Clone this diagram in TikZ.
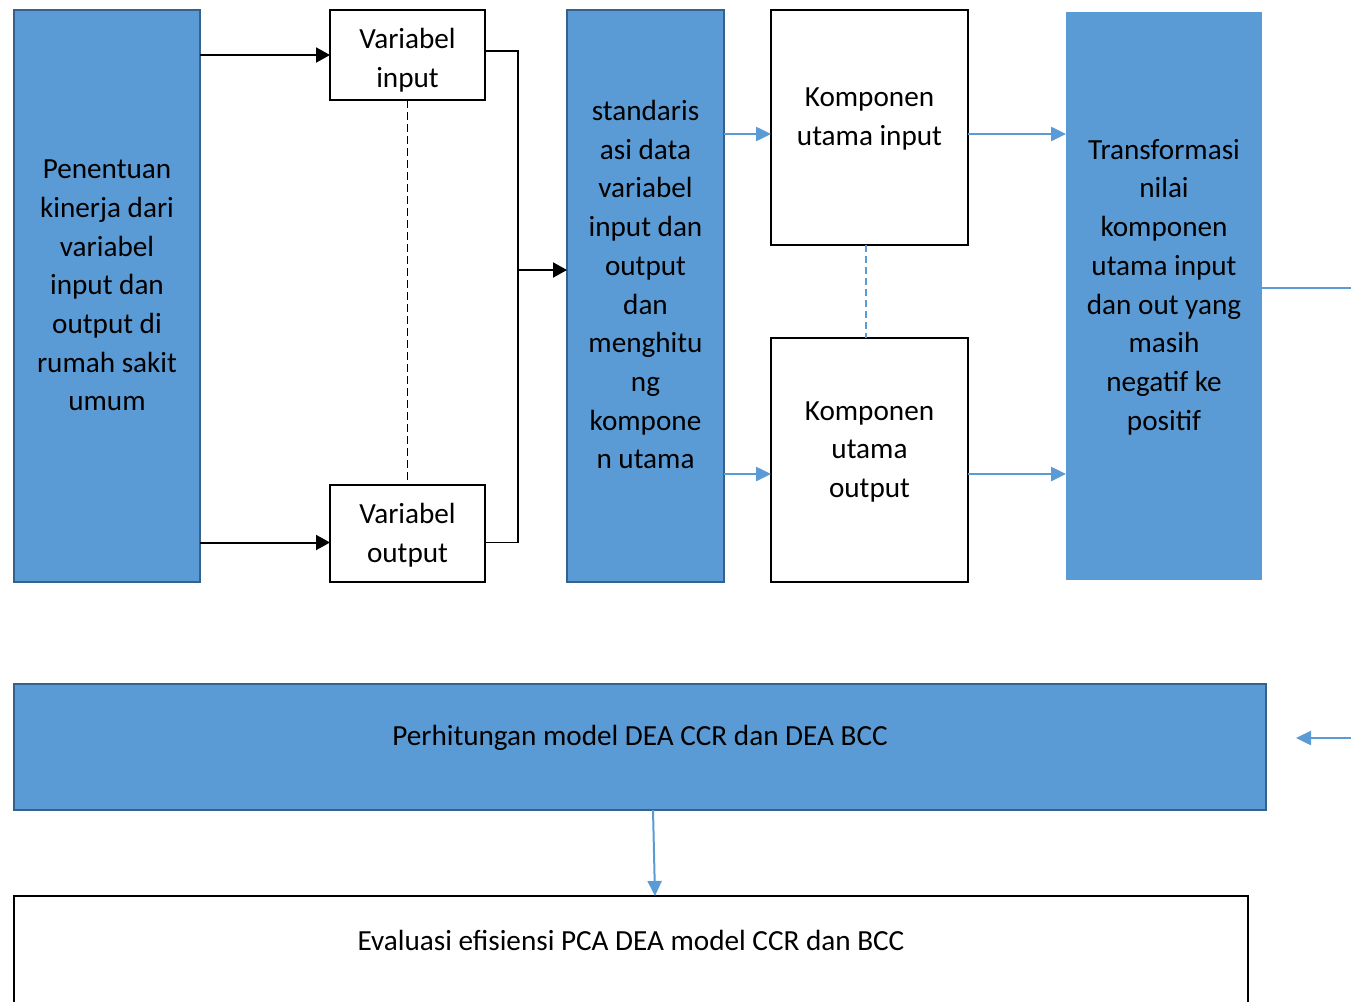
\documentclass[tikz,border=0pt]{standalone}
\usepackage{fontspec}
\setmainfont{Carlito}
\usetikzlibrary{arrows.meta}
\definecolor{bfill}{HTML}{5B9BD5}
\definecolor{bdark}{HTML}{35618F}
\begin{document}
\begin{tikzpicture}[x=1pt,y=-1pt,
  box/.style={rectangle,inner sep=0pt,outer sep=0pt},
  bluebox/.style={box,draw=bdark,line width=2pt,fill=bfill},
  plainblue/.style={box,fill=bfill},
  whitebox/.style={box,draw=black,line width=2.4pt,fill=white},
  txt/.style={align=center,inner sep=0pt,font=\fontsize{29.2}{38.7}\selectfont},
  blkarrow/.style={line width=2pt,-{Triangle[length=14pt,width=15pt]}},
  bluearrow/.style={draw=bfill,line width=2.5pt,-{Triangle[length=15pt,width=14pt]}},
  blueline/.style={draw=bfill,line width=2.5pt},
]
\useasboundingbox (0,0) rectangle (1351,1001);
\clip (0,0) rectangle (1351,1001);
\fill[white] (0,0) rectangle (1351,1001);

% boxes
\node[bluebox,minimum width=186pt,minimum height=572pt] (A) at (107,296) {};
\node[whitebox,minimum width=155pt,minimum height=90pt] (vin) at (407.5,55) {};
\node[whitebox,minimum width=155pt,minimum height=97pt] (vout) at (407.5,533.5) {};
\node[bluebox,minimum width=157pt,minimum height=572pt] (B) at (645.5,296) {};
\node[whitebox,minimum width=197pt,minimum height=235pt] (K1) at (869.5,127.5) {};
\node[whitebox,minimum width=197pt,minimum height=244pt] (K2) at (869.5,460) {};
\node[plainblue,minimum width=196pt,minimum height=568pt] (C) at (1164,296) {};
\node[bluebox,minimum width=1252pt,minimum height=126pt] (D) at (640,747) {};
\node[whitebox,minimum width=1234pt,minimum height=114pt] (E) at (631,953) {};

% texts
\node[txt] (tA) at (107,287) {\strut Penentuan\\kinerja dari\\variabel\\input dan\\output di\\rumah sakit\\umum\strut};
\node[txt] (tvin) at (407.5,60.5) {\strut Variabel\\input\strut};
\node[txt] (tvout) at (407.5,535.5) {\strut Variabel\\output\strut};
\node[txt] (tB) at (645.5,287) {\strut standaris\\asi data\\variabel\\input dan\\output\\dan\\menghitu\\ng\\kompone\\n utama\strut};
\node[txt] (tK1) at (869.5,118.5) {\strut Komponen\\utama input\strut};
\node[txt] (tK2) at (869.5,451) {\strut Komponen\\utama\\output\strut};
\node[txt] (tC) at (1164,287) {\strut Transformasi\\nilai\\komponen\\utama input\\dan out yang\\masih\\negatif ke\\positif\strut};
\node[txt] (tD) at (640,738) {\strut Perhitungan model DEA CCR dan DEA BCC\strut};
\node[txt] (tE) at (631,943) {\strut Evaluasi efisiensi PCA DEA model CCR dan BCC\strut};

% coordinates
\coordinate (br) at (518,270);
\coordinate (out1) at (1351,288);
\coordinate (in1) at (1351,738);
\coordinate (tip1) at (1296,738);

% black connectors
\draw[blkarrow] (A.east |- vin.west) -- (vin.west);
\draw[blkarrow] ([yshift=-9pt]A.east |- vout.west) -- ([yshift=-9pt]vout.west);
\draw[line width=1.3pt,dash pattern=on 8pt off 4pt] (vin.south) -- (vout.north);
\draw[line width=1.3pt] ([yshift=4pt]vin.east) -| (br) |- ([yshift=-9pt]vout.east);
\draw[blkarrow] (br) -- (B.west |- br);

% blue connectors
\draw[bluearrow] (B.east |- 0,134) -- (K1.west |- 0,134);
\draw[bluearrow] (B.east |- 0,474) -- (K2.west |- 0,474);
\draw[draw=bfill,line width=2pt,dash pattern=on 7pt off 4pt] ([xshift=-4pt]K1.south) -- ([xshift=-4pt]K2.north);
\draw[bluearrow] (K1.east |- 0,134) -- (C.west |- 0,134);
\draw[bluearrow] (K2.east |- 0,474) -- (C.west |- 0,474);
\draw[blueline] (C.east |- out1) -- (out1);
\draw[bluearrow] (in1) -- (tip1);
\draw[bluearrow,line width=2pt] ([xshift=13pt]D.south) -- ([xshift=24pt]E.north);
\end{tikzpicture}
\end{document}
